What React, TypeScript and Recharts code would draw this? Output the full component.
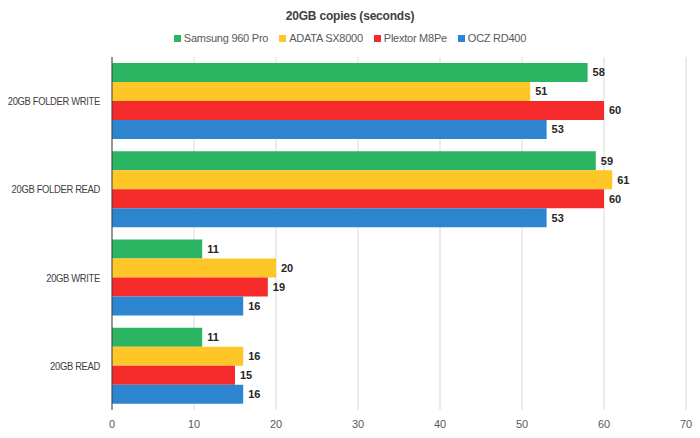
import React from "react";
import { BarChart, Bar, XAxis, YAxis, CartesianGrid, LabelList } from "recharts";

const categories = ["20GB FOLDER WRITE", "20GB FOLDER READ", "20GB WRITE", "20GB READ"];
const seriesNames = ["Samsung 960 Pro", "ADATA SX8000", "Plextor M8Pe", "OCZ RD400"];
const samsung = [58, 59, 11, 11];
const adata = [51, 61, 20, 16];
const plextor = [60, 60, 19, 15];
const ocz = [53, 53, 16, 16];
const xTicks = [0, 10, 20, 30, 40, 50, 60, 70];
const colors = ["#2bb462", "#ffc628", "#f52a2a", "#2d84cf"];
const keys = ["samsung", "adata", "plextor", "ocz"];

const data = categories.map((c, i) => ({
  name: c,
  samsung: samsung[i],
  adata: adata[i],
  plextor: plextor[i],
  ocz: ocz[i],
}));

const FONT = "'Liberation Sans', Arial, sans-serif";

const CatTick = (props: any) => {
  const { x, y, payload } = props;
  return (
    <g transform={`translate(${x},${y}) scale(0.82,1)`}>
      <text
        x={0}
        y={0}
        dy={4}
        textAnchor="end"
        fill="#404040"
        fontSize={11.5}
        fontFamily={FONT}
        style={{ letterSpacing: "-0.4px" }}
      >
        {payload.value}
      </text>
    </g>
  );
};

export default function App() {
  return (
    <div style={{ position: "absolute", left: 0, top: 0, width: 700, height: 438, background: "#fff", fontFamily: FONT }}>
      <div style={{ position: "absolute", top: 9, left: 0, width: 700, textAlign: "center", fontWeight: "bold", fontSize: 12, color: "#404040", letterSpacing: -0.2 }}>
        20GB copies (seconds)
      </div>
      <div style={{ position: "absolute", top: 32, left: 0, width: 700, display: "flex", justifyContent: "center", gap: 11, fontSize: 11, color: "#595959", letterSpacing: -0.25 }}>
        {seriesNames.map((s, i) => (
          <div key={s} style={{ display: "flex", alignItems: "center" }}>
            <span style={{ display: "inline-block", width: 7, height: 7, background: colors[i], marginRight: 3 }} />
            <span>{s}</span>
          </div>
        ))}
      </div>
      <div style={{ position: "absolute", left: 0, top: 0 }}>
        <BarChart
          width={700}
          height={438}
          data={data}
          layout="vertical"
          margin={{ top: 57, right: 14, bottom: 8, left: 0 }}
          barCategoryGap={6}
          barGap={0}
        >
          <CartesianGrid horizontal={false} stroke="#d9d9d9" />
          <XAxis
            type="number"
            domain={[0, 70]}
            ticks={xTicks}
            axisLine={false}
            tickLine={false}
            height={20}
            tick={{ fill: "#595959", fontSize: 11, fontFamily: FONT }}
            tickMargin={4}
          />
          <YAxis
            type="category"
            dataKey="name"
            width={112}
            axisLine={{ stroke: "#404040" }}
            tickLine={false}
            tickSize={0}
            tickMargin={12}
            tick={<CatTick />}
          />
          {keys.map((k, i) => (
            <Bar key={k} dataKey={k} name={seriesNames[i]} fill={colors[i]} isAnimationActive={false}>
              <LabelList
                dataKey={k}
                position="right"
                offset={5}
                style={{ fill: "#262626", fontWeight: "bold", fontSize: 11, fontFamily: FONT }}
              />
            </Bar>
          ))}
        </BarChart>
      </div>
    </div>
  );
}
